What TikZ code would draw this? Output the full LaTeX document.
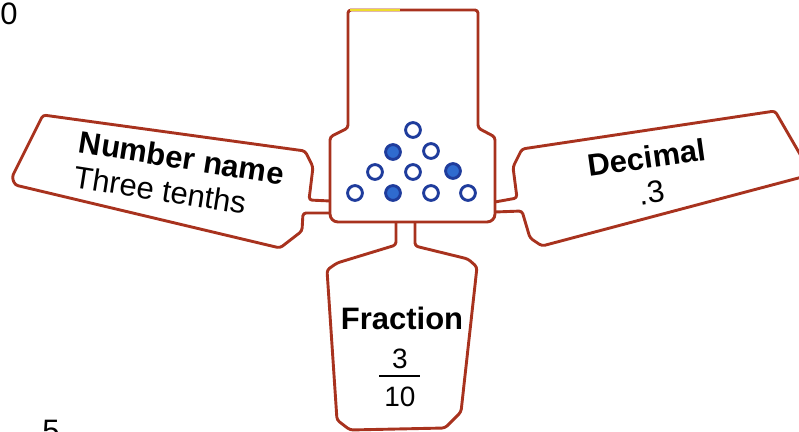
\documentclass[tikz,border=0pt]{standalone}
\usepackage{fontspec}
\setmainfont{Liberation Sans}
\usetikzlibrary{positioning}
\definecolor{RojoBorde}{HTML}{A8321E}
\definecolor{AzulBorde}{HTML}{1F3C9C}
\definecolor{AzulFicha}{HTML}{2F6BCF}
\definecolor{AmarilloMarca}{HTML}{EEDC2A}

\begin{document}
\begin{tikzpicture}[x=0.5pt,y=-0.5pt,
    contorno/.style={draw=RojoBorde,line width=1.45pt,rounded corners=1.5pt,line join=round},
    ficha/.style={circle,draw=AzulBorde,line width=1.45pt,fill=white,minimum size=7.4pt,inner sep=0pt},
    fichallena/.style={ficha,fill=AzulFicha},
    texto/.style={font=\fontsize{15.5}{17.5}\selectfont,inner sep=0pt},
    titulo/.style={texto,font=\fontsize{15.5}{17.5}\selectfont\bfseries},
    cifra/.style={font=\fontsize{14}{16}\selectfont,inner sep=0pt}]
  \useasboundingbox (0,0) rectangle (799,432);
  \clip (0,0) rectangle (799,432);
  % caja central
  \draw[contorno] (348,128) -- (348,10) -- (478,10) -- (478,128) -- (495,137) [rounded corners=4pt] -- (495,222) -- (330,222) [rounded corners=1.5pt] -- (330,137) -- cycle;
  \draw[AmarilloMarca,line width=1.45pt] (350,10) -- (400,10);
  % brazo izquierdo
  \draw[contorno] (330,201) -- (309,200) -- (313,167) -- (305,151) -- (43,115) -- (12,177) -- (15,185) -- (280,248) -- (302,231) -- (303,213) -- (330,213);
  % brazo derecho
  \draw[contorno] (495,202) -- (517,198) -- (513,167) -- (522,149) -- (775,111) -- (808,168) -- (806,176) -- (542,246) -- (530,238) -- (522,211) -- (495,212);
  % brazo inferior
  \draw[contorno] (396,222) -- (396,245) -- (337,263) -- (327,270) -- (337,420) -- (350,430) -- (445,428) -- (461,412) -- (477,267) -- (468,259) -- (415,246) -- (415,222);
  % fichas
  \foreach \x/\y [count=\i] in {413/130, 431/151, 375/172, 413/172, 355/193, 431/193, 468/193}
    \node[ficha] (hueca\i) at (\x,\y) {};
  \foreach \x/\y [count=\i] in {393/152, 453/171, 393/193}
    \node[fichallena] (llena\i) at (\x,\y) {};
  % textos
  \node[texto,align=left,rotate=-9] (nombre) at (179,175) {\textbf{Number name}\\Three tenths};
  \node[texto,align=center,rotate=8] (decimal) at (649,175) {\textbf{Decimal}\\.3};
  \node[titulo] (fraccion) at (402,318) {Fraction};
  \node[cifra] (numerador) at (400,359) {3};
  \node[cifra] (denominador) at (400,397) {10};
  \draw[line width=1pt] (379,376) -- (420,376);
  % numeros del margen
  \node[texto] (margen0) at (9,14) {0};
  \node[texto] (margen5) at (51,431) {5};
\end{tikzpicture}
\end{document}
